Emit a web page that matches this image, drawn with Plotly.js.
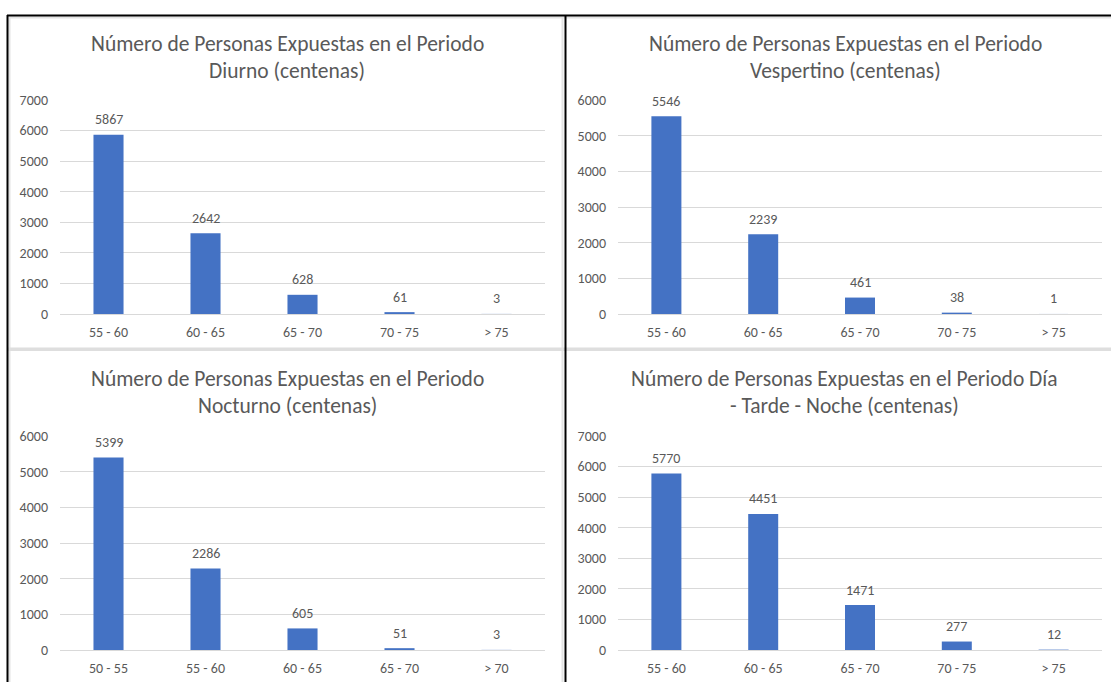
<!DOCTYPE html>
<html>
<head>
<meta charset="utf-8">
<script src="https://cdn.plot.ly/plotly-3.0.1.min.js"></script>
<style>
  html, body { margin: 0; padding: 0; background: #ffffff; }
  #chart { width: 1111px; height: 682px; }
</style>
</head>
<body>
<div id="chart"></div>
<script>
// Noise exposure bands (dB) and exposed population, in hundreds
const catsDia = ['55 - 60', '60 - 65', '65 - 70', '70 - 75', '> 75'];
const catsNoche = ['50 - 55', '55 - 60', '60 - 65', '65 - 70', '> 70'];

const diurno = [5867, 2642, 628, 61, 3];
const vespertino = [5546, 2239, 461, 38, 1];
const nocturno = [5399, 2286, 605, 51, 3];
const diaTardeNoche = [5770, 4451, 1471, 277, 12];

const yMax = [7000, 6000, 6000, 7000];

const titles = [
  ['Número de Personas Expuestas en el Periodo', 'Diurno (centenas)'],
  ['Número de Personas Expuestas en el Periodo', 'Vespertino (centenas)'],
  ['Número de Personas Expuestas en el Periodo', 'Nocturno (centenas)'],
  ['Número de Personas Expuestas en el Periodo Día', '- Tarde - Noche (centenas)']
];

const W = 1111, H = 682;
const FONT = 'Calibri, Carlito, Lato, sans-serif';
const TEXT = '#595959';
const GRID = '#d9d9d9';
const BAR = '#4472C4';
const TICK_SIZE = 14;
const TITLE_SIZE = 21.5;

// pixel frames of the four plot areas: [left, right, top, bottom]
const frames = [
  [60, 545, 100, 314],
  [618, 1102, 100, 314],
  [60, 545, 436, 650],
  [618, 1102, 436, 650]
];
const titleCx = [287, 845, 287, 844];
const titleY = [[44, 71], [44, 71], [379, 406], [379, 406]];

const panels = [
  { cats: catsDia, vals: diurno },
  { cats: catsDia, vals: vespertino },
  { cats: catsNoche, vals: nocturno },
  { cats: catsDia, vals: diaTardeNoche }
];

const data = [];
const layout = {
  width: W, height: H,
  margin: { l: 0, r: 0, t: 0, b: 0 },
  paper_bgcolor: '#ffffff',
  plot_bgcolor: 'rgba(0,0,0,0)',
  showlegend: false,
  bargap: 0.69,
  font: { family: FONT, color: TEXT, size: TICK_SIZE },
  annotations: [],
  shapes: []
};

panels.forEach((p, i) => {
  const n = i === 0 ? '' : String(i + 1);
  const [l, r, t, b] = frames[i];
  data.push({
    type: 'bar',
    x: p.cats,
    y: p.vals,
    xaxis: 'x' + n,
    yaxis: 'y' + n,
    marker: { color: BAR },
    hoverinfo: 'x+y'
  });
  layout['xaxis' + n] = {
    domain: [l / W, r / W],
    anchor: 'y' + n,
    type: 'category',
    showgrid: false,
    zeroline: false,
    showline: true,
    linecolor: GRID,
    linewidth: 1,
    ticks: '',
    ticklabelstandoff: 5,
    tickfont: { family: FONT, color: TEXT, size: TICK_SIZE },
    fixedrange: true
  };
  layout['yaxis' + n] = {
    domain: [1 - b / H, 1 - t / H],
    anchor: 'x' + n,
    range: [0, yMax[i]],
    dtick: 1000,
    showgrid: true,
    gridcolor: GRID,
    gridwidth: 1,
    zeroline: false,
    showline: false,
    ticks: '',
    ticklabelstandoff: 11,
    tickfont: { family: FONT, color: TEXT, size: TICK_SIZE },
    fixedrange: true
  };
  // two-line panel title
  titles[i].forEach((line, k) => {
    layout.annotations.push({
      xref: 'paper', yref: 'paper',
      x: titleCx[i] / W, y: 1 - titleY[i][k] / H,
      xanchor: 'center', yanchor: 'middle',
      text: line, showarrow: false,
      font: { family: FONT, color: TEXT, size: TITLE_SIZE }
    });
  });
  // value labels above each bar
  p.cats.forEach((c, j) => {
    layout.annotations.push({
      xref: 'x' + n, yref: 'y' + n,
      x: c, y: p.vals[j],
      xanchor: 'center', yanchor: 'middle', yshift: 15,
      text: String(p.vals[j]), showarrow: false,
      font: { family: FONT, color: TEXT, size: TICK_SIZE }
    });
  });
});

// sheet frame: thin grey chart borders and the black cell borders
const px = (x) => x / W, py = (y) => 1 - y / H;
layout.shapes.push(
  { type: 'line', xref: 'paper', yref: 'paper', x0: px(9.5), x1: px(9.5), y0: py(17), y1: py(682), line: { color: '#e3e3e3', width: 2 } },
  { type: 'line', xref: 'paper', yref: 'paper', x0: px(9), x1: px(1111), y0: py(17.5), y1: py(17.5), line: { color: '#e3e3e3', width: 2 } },
  { type: 'line', xref: 'paper', yref: 'paper', x0: px(562.5), x1: px(562.5), y0: py(17), y1: py(682), line: { color: '#e3e3e3', width: 2 } },
  { type: 'rect', xref: 'paper', yref: 'paper', x0: px(8), x1: px(1111), y0: py(351), y1: py(347.5), fillcolor: '#dedede', line: { width: 0 } },
  { type: 'line', xref: 'paper', yref: 'paper', x0: px(7), x1: px(1111), y0: py(15.5), y1: py(15.5), line: { color: '#000000', width: 2 } },
  { type: 'line', xref: 'paper', yref: 'paper', x0: px(7.5), x1: px(7.5), y0: py(15), y1: py(682), line: { color: '#000000', width: 2 } },
  { type: 'line', xref: 'paper', yref: 'paper', x0: px(565.5), x1: px(565.5), y0: py(15), y1: py(682), line: { color: '#000000', width: 2 } }
);

Plotly.newPlot('chart', data, layout, { displayModeBar: false, staticPlot: true });
</script>
</body>
</html>
